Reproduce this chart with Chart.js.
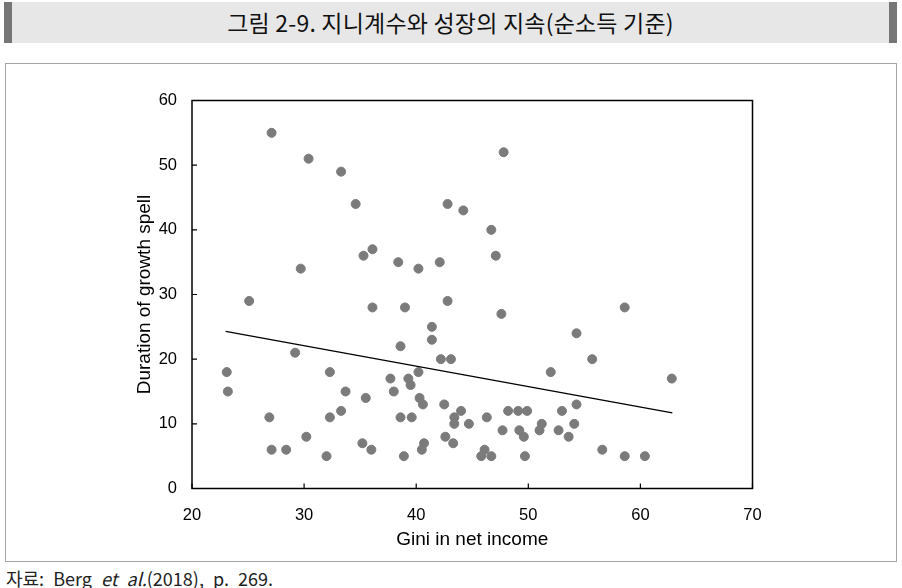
<!DOCTYPE html>
<html>
<head>
<meta charset="utf-8">
<script src="https://cdn.jsdelivr.net/npm/chart.js@4.4.1/dist/chart.umd.min.js"></script>
<style>
  html,body{margin:0;padding:0;background:#fff;}
  body{width:902px;height:588px;position:relative;overflow:hidden;}
  #banner{position:absolute;left:4px;top:2px;width:893px;height:41px;background:#e7e7e7;
    border-left:8px solid #767676;border-right:8px solid #767676;box-sizing:border-box;
    text-align:center;font-family:"Noto Sans CJK KR";font-size:23px;line-height:41px;color:#111;letter-spacing:0.2px;}
  #frame{position:absolute;left:5px;top:63px;width:892px;height:499px;border:1px solid #a5a5a5;box-sizing:border-box;}
  #src{position:absolute;left:6px;top:566px;font-family:"Noto Sans CJK KR";font-size:18px;line-height:24px;color:#222;word-spacing:5px;}
  canvas{position:absolute;left:0;top:0;}
</style>
</head>
<body>
<div id="banner">그림 2-9. 지니계수와 성장의 지속(순소득 기준)</div>
<div id="frame"></div>
<div id="src">자료: Berg <i>et al.</i>(2018), p. 269.</div>
<canvas id="c" width="902" height="588"></canvas>
<script>
const gini = [27.1,30.4,33.3,34.6,36.1,35.3,29.7,25.1,47.8,42.8,44.2,46.7,47.1,38.4,40.2,42.1,36.1,29.2,23.1,23.2,32.3,33.7,35.5,26.9,32.3,33.3,30.2,27.1,28.4,32.0,35.2,36.0,37.7,39.0,42.8,47.6,41.4,41.4,38.6,54.3,42.2,43.1,52.0,39.3,40.2,39.5,38.0,40.3,40.6,42.5,54.3,38.6,39.6,43.4,44.0,43.4,44.7,46.3,48.2,49.1,49.9,53.0,51.2,51.0,52.7,54.1,53.6,47.7,49.2,49.6,42.6,43.3,40.7,40.5,38.9,46.1,45.8,46.7,49.7,58.6,55.7,62.8,56.6,58.6,60.4];
const duration = [55,51,49,44,37,36,34,29,52,44,43,40,36,35,34,35,28,21,18,15,18,15,14,11,11,12,8,6,6,5,7,6,17,28,29,27,25,23,22,24,20,20,18,17,18,16,15,14,13,13,13,11,11,11,12,10,10,11,12,12,12,12,10,9,9,10,8,9,9,8,8,7,7,6,5,6,5,5,5,28,20,17,6,5,5];
const fitX = [23.0, 62.85];
const fitY = [24.3, 11.7];
const xTicks = [20,30,40,50,60,70];
const yTicks = [0,10,20,30,40,50,60];

const pts = gini.map((g,i)=>({x:g,y:duration[i]}));
const fit = fitX.map((x,i)=>({x:x,y:fitY[i]}));

const frameTicks = {
  id:'frameTicks',
  afterDraw(chart){
    const {ctx, chartArea:a, scales} = chart;
    ctx.save();
    ctx.strokeStyle='#000';
    ctx.lineWidth=1.5;
    ctx.strokeRect(a.left,a.top,a.right-a.left,a.bottom-a.top);
    ctx.lineWidth=1.2;
    ctx.beginPath();
    xTicks.forEach(v=>{const p=scales.x.getPixelForValue(v);ctx.moveTo(p,a.bottom);ctx.lineTo(p,a.bottom-5);});
    yTicks.forEach(v=>{const p=scales.y.getPixelForValue(v);ctx.moveTo(a.left,p);ctx.lineTo(a.left+5,p);});
    ctx.stroke();
    ctx.restore();
  }
};

new Chart(document.getElementById('c'),{
  type:'scatter',
  data:{datasets:[
    {data:fit,type:'line',borderColor:'#000',borderWidth:1.3,pointRadius:0,fill:false,order:0},
    {data:pts,backgroundColor:'#7b7b7b',borderColor:'#7b7b7b',pointRadius:4.5,pointHoverRadius:4.5,order:1}
  ]},
  options:{
    responsive:false,animation:false,
    layout:{padding:{left:130,right:149.5,top:100.5,bottom:37}},
    plugins:{legend:{display:false},tooltip:{enabled:false}},
    scales:{
      x:{type:'linear',min:20,max:70,
        afterBuildTicks(s){s.ticks=xTicks.map(v=>({value:v}));},
        afterFit(s){s.height=62.5;},
        grid:{display:false,drawTicks:false},border:{display:false},
        ticks:{color:'#000',padding:17,font:{family:'Liberation Sans',size:16.5}},
        title:{display:true,text:'Gini in net income',color:'#000',font:{family:'Liberation Sans',size:19},padding:{top:4,bottom:0}}
      },
      y:{type:'linear',min:0,max:60,
        afterBuildTicks(s){s.ticks=yTicks.map(v=>({value:v}));},
        afterFit(s){s.width=62;},
        grid:{display:false,drawTicks:false},border:{display:false},
        ticks:{color:'#000',padding:15,font:{family:'Liberation Sans',size:16.5}},
        title:{display:true,text:'Duration of growth spell',color:'#000',font:{family:'Liberation Sans',size:19},padding:{top:3,bottom:0}}
      }
    }
  },
  plugins:[frameTicks]
});
</script>
</body>
</html>
